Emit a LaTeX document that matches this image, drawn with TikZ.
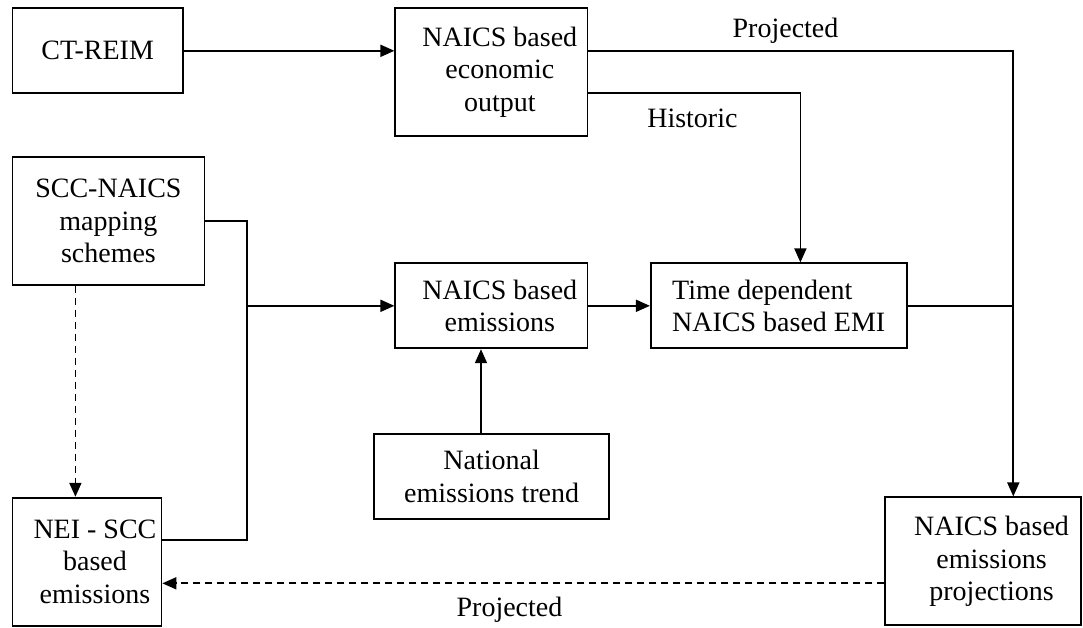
\documentclass[tikz,border=0pt]{standalone}
\usepackage{fontspec}
\setmainfont{Liberation Serif}
\usetikzlibrary{arrows.meta}
\begin{document}
\begin{tikzpicture}[x=1pt,y=-1pt,
  box/.style={draw, line width=1.8pt, inner sep=0pt, align=center,
    font=\fontsize{28}{32.5}\selectfont},
  lbl/.style={inner sep=0pt, anchor=base, font=\fontsize{28}{32.5}\selectfont},
  conn/.style={line width=1.8pt},
  arr/.style={conn, -{Triangle[length=14pt,width=12pt]}},
  darr/.style={arr, dash pattern=on 7.5pt off 4.5pt}
]
\useasboundingbox (0,0) rectangle (1083,627);

% boxes
\node[box, minimum width=170.5pt, minimum height=85pt] (ct) at (97.65,50.8) {CT-REIM};
\node[box, minimum width=192.1pt, minimum height=127.4pt,
  label={[lbl, anchor=center, align=center, xshift=8.5pt]center:{NAICS based\\economic\\output}}] (econ) at (491.35,72) {};
\node[box, minimum width=192.1pt, minimum height=128pt] (scc) at (108.45,221) {SCC-NAICS\\mapping\\schemes};
\node[box, minimum width=192.1pt, minimum height=85pt,
  label={[lbl, anchor=center, align=center, xshift=8.5pt]center:{NAICS based\\emissions}}] (emis) at (491.35,305.8) {};
\node[box, minimum width=255.9pt, minimum height=85pt, align=left] (emi) at (778.75,305.8) {Time dependent\\NAICS based EMI};
\node[box, minimum width=234.6pt, minimum height=85pt] (nat) at (491.6,476.5) {National\\emissions trend};
\node[box, minimum width=149.1pt, minimum height=128.3pt,
  label={[lbl, anchor=center, align=center, xshift=8pt]center:{NEI - SCC\\based\\emissions}}] (nei) at (86.95,561.85) {};
\node[box, minimum width=195.8pt, minimum height=128pt,
  label={[lbl, anchor=center, align=center, xshift=8.5pt]center:{NAICS based\\emissions\\projections}}] (proj) at (983.1,561.3) {};

% helper coordinates
\coordinate (pjc) at (1013.3,51);
\coordinate (hc) at (800.4,93.3);
\coordinate (jx) at (246.6,220.7);
\coordinate (jb) at (246.6,540);
\coordinate (dx) at (75.4,0);
\coordinate (nx) at (481,0);
\coordinate (py) at (0,583.3);

% connectors
\draw[arr] (ct.east) -- (econ.west |- ct.east);
\draw[arr] (econ.east |- pjc) -- (pjc) -- (pjc |- proj.north);
\draw[arr] (econ.east |- hc) -- (hc) -- (hc |- emi.north);
\draw[conn] (emi.east) -- (emi.east -| pjc);
\draw[conn] (scc.east |- jx) -- (jx) -- (jb) -- (nei.east |- jb);
\draw[arr] (jx |- emis.west) -- (emis.west);
\draw[darr] (scc.south -| dx) -- (nei.north -| dx);
\draw[arr] (nat.north -| nx) -- (emis.south -| nx);
\draw[arr] (emis.east) -- (emi.west);
\draw[darr] (proj.west |- py) -- (nei.east |- py);

% labels
\node[lbl] (ltop) at (785.5,37.3) {Projected};
\node[lbl] (lhist) at (692.4,127.3) {Historic};
\node[lbl] (lbot) at (509.5,616.7) {Projected};
\end{tikzpicture}
\end{document}
